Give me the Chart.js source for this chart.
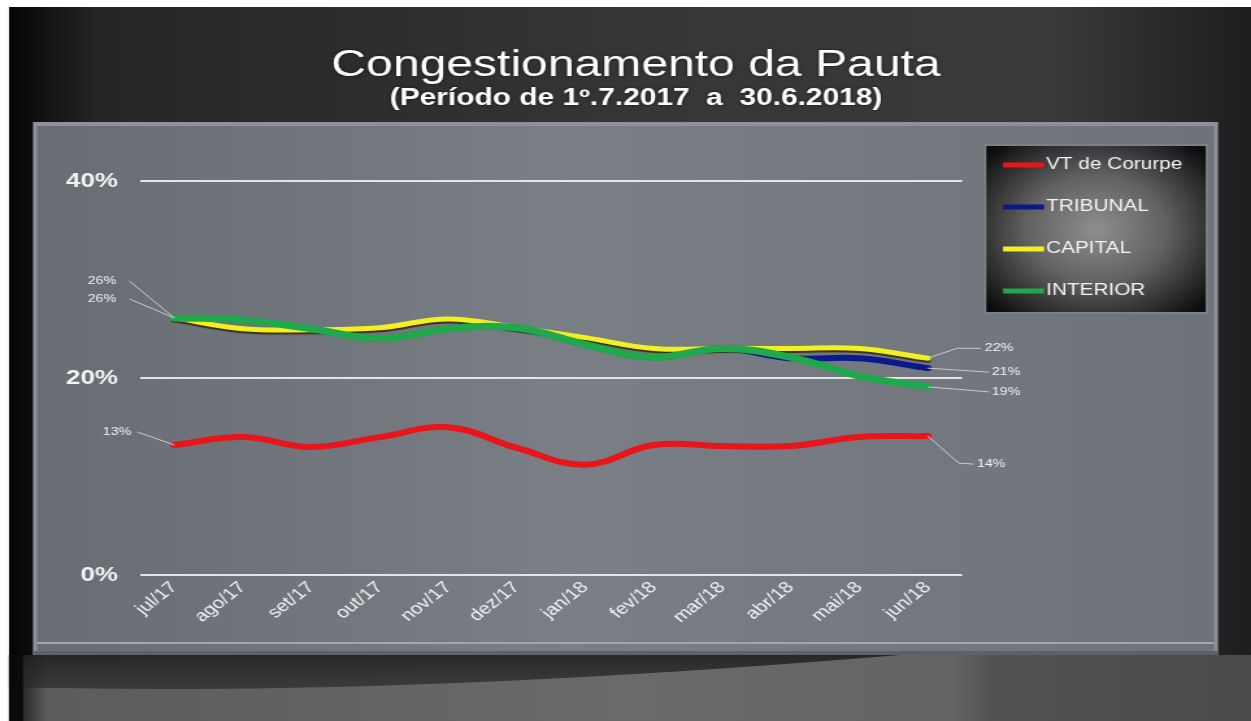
<!DOCTYPE html>
<html>
<head>
<meta charset="utf-8">
<title>Congestionamento da Pauta</title>
<script src="https://cdn.jsdelivr.net/npm/chart.js@4.4.1/dist/chart.umd.min.js"></script>
<style>
  html, body { margin: 0; padding: 0; background: #fff; overflow: hidden; }
  /* le slide d'origine est étiré horizontalement : on dessine étroit puis on étire */
  #wrap { position: absolute; left: 0; top: 0; width: 963px; height: 721px; transform-origin: 0 0; transform: scaleX(1.2991); }
</style>
</head>
<body>
<div id="wrap"><canvas id="pautaChart" width="963" height="721"></canvas></div>
<script>
// données (en %)
const meses = ['jul/17', 'ago/17', 'set/17', 'out/17', 'nov/17', 'dez/17', 'jan/18', 'fev/18', 'mar/18', 'abr/18', 'mai/18', 'jun/18'];
const vtCorurpe = [13.2, 14.0, 13.0, 14.0, 15.0, 12.9, 11.2, 13.2, 13.1, 13.1, 14.0, 14.1];
const tribunal = [26.1, 25.9, 25.0, 24.0, 25.0, 25.1, 23.4, 22.1, 23.0, 22.0, 22.0, 21.0];
const capital = [26.1, 25.0, 24.9, 25.1, 26.0, 25.1, 24.1, 23.0, 23.0, 23.0, 23.0, 22.0];
const interior = [26.1, 25.9, 25.0, 24.0, 25.0, 25.1, 23.4, 22.1, 23.0, 22.1, 20.2, 19.1];
const series = ['VT de Corurpe', 'TRIBUNAL', 'CAPITAL', 'INTERIOR'];
const cores = ['#e8151b', '#0b1a8a', '#f3f020', '#1fa84c'];

const K = 1251 / 963;          // facteur d'étirement horizontal
const rx = v => v / K;         // x de l'image -> x du canvas
const FONT = '"Liberation Sans", Arial, sans-serif';

function serie(i, data, width, order) {
  return {
    label: series[i], data, borderColor: cores[i], backgroundColor: cores[i],
    borderWidth: width, pointRadius: 0, tension: 0.4, fill: false, order,
    borderCapStyle: 'round'
  };
}

// étiquettes avec trait de rappel
const rotulos = [
  { s: 2, p: 0, trait: [[-45, -37]], texte: [-58, -37], align: 'right' },
  { s: 3, p: 0, trait: [[-45, -19]], texte: [-58, -19], align: 'right' },
  { s: 0, p: 0, trait: [[-37, -13]], texte: [-43, -13], align: 'right' },
  { s: 2, p: 11, trait: [[29, -10], [53, -10]], texte: [57, -10], align: 'left' },
  { s: 1, p: 11, trait: [[61, 4]], texte: [64, 4], align: 'left' },
  { s: 3, p: 11, trait: [[61, 5]], texte: [64, 5], align: 'left' },
  { s: 0, p: 11, trait: [[31, 27], [46, 28]], texte: [49, 28], align: 'left' }
];

const fondSlide = {
  id: 'fondSlide',
  beforeDraw(chart) {
    const ctx = chart.ctx;
    ctx.save();
    ctx.scale(1 / K, 1);   // on travaille en coordonnées de l'image
    ctx.fillStyle = '#fff';
    ctx.fillRect(0, 0, 1251, 721);

    let g = ctx.createLinearGradient(9, 0, 1251, 0);
    g.addColorStop(0, '#050505');
    g.addColorStop(0.07, '#252525');
    g.addColorStop(0.5, '#363636');
    g.addColorStop(0.84, '#3a3a3a');
    g.addColorStop(1, '#1e1e1e');
    ctx.fillStyle = g;
    ctx.fillRect(9, 7, 1242, 714);

    // bas du slide plus clair avec une ombre courbe
    g = ctx.createLinearGradient(9, 0, 1251, 0);
    g.addColorStop(0, '#0a0a0a');
    g.addColorStop(0.03, '#5c5c5c');
    g.addColorStop(0.5, '#6a6a6a');
    g.addColorStop(0.76, '#646464');
    g.addColorStop(0.79, '#535353');
    g.addColorStop(1, '#4a4a4a');
    ctx.fillStyle = g;
    ctx.fillRect(9, 655, 1242, 66);
    g = ctx.createLinearGradient(0, 655, 0, 692);
    g.addColorStop(0, 'rgba(30,30,30,0.85)');
    g.addColorStop(1, 'rgba(45,45,45,0.7)');
    ctx.fillStyle = g;
    ctx.beginPath();
    ctx.moveTo(9, 655);
    ctx.lineTo(900, 655);
    ctx.quadraticCurveTo(420, 695, 60, 688);
    ctx.lineTo(9, 688);
    ctx.closePath();
    ctx.fill();
    ctx.fillStyle = '#0a0a0a';
    ctx.fillRect(9, 655, 14, 66);

    // cadre du graphique
    ctx.fillStyle = '#8e9298';
    ctx.fillRect(33, 122, 1185, 533);
    g = ctx.createLinearGradient(37, 0, 1214, 0);
    g.addColorStop(0, '#686c73');
    g.addColorStop(0.45, '#7a7e85');
    g.addColorStop(1, '#6e7279');
    ctx.fillStyle = g;
    ctx.fillRect(37, 126, 1177, 525);
    ctx.fillStyle = '#a3a7ad';
    ctx.fillRect(37, 642, 1177, 2);
    ctx.fillStyle = '#5e6167';
    ctx.fillRect(33, 651, 1185, 4);

    // titre
    ctx.restore();
    ctx.save();
    ctx.fillStyle = '#fff';
    ctx.textAlign = 'center';
    ctx.textBaseline = 'alphabetic';
    ctx.shadowColor = 'rgba(0,0,0,0.6)';
    ctx.shadowBlur = 3;
    ctx.font = '37px ' + FONT;
    ctx.fillText('Congestionamento da Pauta', rx(636), 76);
    ctx.font = 'bold 23px ' + FONT;
    ctx.fillText('(Período de 1º.7.2017  a  30.6.2018)', rx(636), 105);
    ctx.restore();
  }
};

const rappels = {
  id: 'rappels',
  beforeDatasetDraw(chart, args) {
    // ombre sombre sous la courbe jaune
    chart.ctx.save();
    if (args.index === 2) {
      chart.ctx.shadowColor = 'rgba(40,30,0,0.8)';
      chart.ctx.shadowOffsetY = 2;
      chart.ctx.shadowBlur = 1;
    }
  },
  afterDatasetDraw(chart) {
    chart.ctx.restore();
  },
  afterDatasetsDraw(chart) {
    const ctx = chart.ctx;
    ctx.save();
    ctx.strokeStyle = '#c9ccd0';
    ctx.lineWidth = 1;
    ctx.fillStyle = '#f2f2f2';
    ctx.font = '11px ' + FONT;
    ctx.textBaseline = 'middle';
    rotulos.forEach(r => {
      const pt = chart.getDatasetMeta(r.s).data[r.p];
      const val = chart.data.datasets[r.s].data[r.p];
      ctx.beginPath();
      ctx.moveTo(pt.x, pt.y);
      r.trait.forEach(([dx, dy]) => ctx.lineTo(pt.x + rx(dx), pt.y + dy));
      ctx.stroke();
      ctx.textAlign = r.align;
      ctx.fillText(Math.round(val) + '%', pt.x + rx(r.texte[0]), pt.y + r.texte[1]);
    });
    ctx.restore();
  },
  afterDraw(chart) {
    // légende dans son encadré sombre
    const ctx = chart.ctx;
    const x0 = rx(985), x1 = rx(1207), y0 = 145, y1 = 313;
    ctx.save();
    const g = ctx.createRadialGradient((x0 + x1) / 2, 229, 5, (x0 + x1) / 2, 229, 112);
    g.addColorStop(0, '#8a8a8a');
    g.addColorStop(0.45, '#626262');
    g.addColorStop(0.8, '#2c2c2c');
    g.addColorStop(1, '#0c0c0c');
    ctx.fillStyle = g;
    ctx.fillRect(x0, y0, x1 - x0, y1 - y0);
    ctx.strokeStyle = '#7d8187';
    ctx.lineWidth = 2;
    ctx.strokeRect(x0, y0, x1 - x0, y1 - y0);
    ctx.font = '16px ' + FONT;
    ctx.textAlign = 'left';
    ctx.textBaseline = 'middle';
    series.forEach((nom, i) => {
      const y = 165 + i * 42;
      ctx.strokeStyle = cores[i];
      ctx.lineWidth = 5;
      ctx.beginPath();
      ctx.moveTo(rx(1003), y);
      ctx.lineTo(rx(1044), y);
      ctx.stroke();
      ctx.fillStyle = '#f4f4f4';
      ctx.fillText(nom, rx(1046), y);
    });
    ctx.restore();
  }
};

new Chart(document.getElementById('pautaChart'), {
  type: 'line',
  data: {
    labels: meses,
    datasets: [
      serie(0, vtCorurpe, 6, 3),
      serie(1, tribunal, 6, 2),
      serie(2, capital, 5, 1),
      serie(3, interior, 7, 0)
    ]
  },
  options: {
    responsive: false,
    animation: false,
    devicePixelRatio: 1,
    layout: { padding: { left: rx(140) - 80, right: 963 - rx(962), top: 181, bottom: 721 - 575 - 80 } },
    plugins: { legend: { display: false }, tooltip: { enabled: false } },
    scales: {
      x: {
        offset: true,
        grid: { display: false, drawTicks: false },
        border: { display: false },
        ticks: { color: '#f2f2f2', font: { family: FONT, size: 16 }, minRotation: 45, maxRotation: 45, padding: 3, autoSkip: false },
        afterFit: s => { s.height = 80; }
      },
      y: {
        min: 0, max: 40,
        grid: { color: '#e4e4e4', lineWidth: 2, drawTicks: false },
        border: { display: false },
        ticks: { stepSize: 20, color: '#f4f4f4', padding: rx(22), font: { family: FONT, size: 20, weight: 'bold' }, callback: v => v + '%' },
        afterFit: s => { s.width = 80; }
      }
    }
  },
  plugins: [fondSlide, rappels]
});
</script>
</body>
</html>
